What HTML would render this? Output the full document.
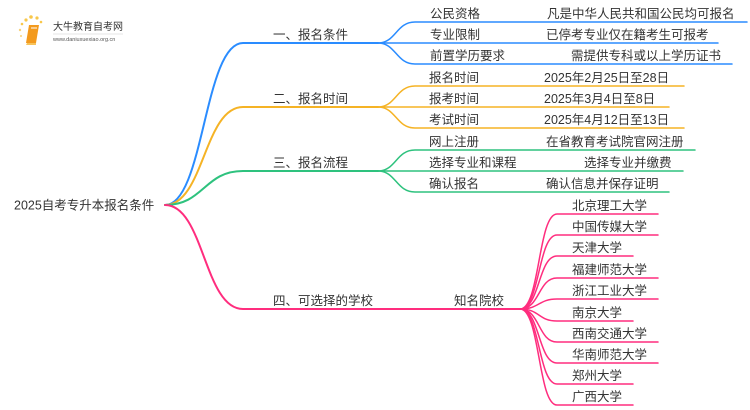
<!DOCTYPE html>
<html><head><meta charset="utf-8">
<style>
html,body{margin:0;padding:0;background:#fff;}
svg{display:block;}
text{font-family:"Liberation Sans","Noto Sans CJK SC",sans-serif;fill:#333;font-size:12.5px;}
</style></head><body>
<svg width="750" height="410" viewBox="0 0 750 410" xmlns="http://www.w3.org/2000/svg">
<!-- logo -->
<g>
<circle cx="22" cy="24" r="1.3" fill="#f8c74a"/>
<circle cx="26" cy="20" r="1.6" fill="#f8c74a"/>
<circle cx="31" cy="17" r="1.8" fill="#f8c74a"/>
<circle cx="37" cy="18" r="1.6" fill="#f8c74a"/>
<circle cx="41" cy="22" r="1.3" fill="#f8c74a"/>
<circle cx="20" cy="30" r="1.2" fill="#f8d27a"/>
<circle cx="21" cy="36" r="1" fill="#f8d27a"/>
<path d="M29,25 L39,25 L36,43 L26,43 Z" fill="#f39a1e"/>
<path d="M27,43 L36,43 L36,45 L26,45 Z" fill="#f7c35a"/>
<path d="M31,28 L37,28" stroke="#fff" stroke-width="1"/>
<text x="53" y="30" style="font-size:10px;fill:#333">大牛教育自考网</text>
<line x1="53" y1="34" x2="123" y2="34" stroke="#ccc" stroke-width="0.6"/>
<text x="53" y="41" style="font-size:5.5px;fill:#555">www.daniuxuexiao.org.cn</text>
</g>

<!-- root -->
<text x="14" y="209.5">2025自考专升本报名条件</text>

<g fill="none" stroke-linecap="round">
<!-- root to branches -->
<path d="M165,205 C204,205 204,43 243,43 L378,43" stroke="#2a8cff" stroke-width="2"/>
<path d="M165,205 C204,205 204,107 243,107 L378,107" stroke="#f5b325" stroke-width="2"/>
<path d="M165,205 C204,205 204,171 243,171 L378,171" stroke="#2ec27e" stroke-width="2"/>
<path d="M165,205 C204,205 204,309 243,309 L520,309" stroke="#ff2d7e" stroke-width="2"/>

<!-- branch 1 children -->
<path d="M378,43 C396,43 396,22 415,22 L747,22" stroke="#2a8cff" stroke-width="1.5"/>
<path d="M378,43 L718,43" stroke="#2a8cff" stroke-width="1.5"/>
<path d="M378,43 C396,43 396,64 415,64 L732,64" stroke="#2a8cff" stroke-width="1.5"/>
<!-- branch 2 children -->
<path d="M378,107 C396,107 396,86 415,86 L684,86" stroke="#f5b325" stroke-width="1.5"/>
<path d="M378,107 L669,107" stroke="#f5b325" stroke-width="1.5"/>
<path d="M378,107 C396,107 396,128 415,128 L684,128" stroke="#f5b325" stroke-width="1.5"/>
<!-- branch 3 children -->
<path d="M378,171 C396,171 396,150 415,150 L695,150" stroke="#2ec27e" stroke-width="1.5"/>
<path d="M378,171 L683,171" stroke="#2ec27e" stroke-width="1.5"/>
<path d="M378,171 C396,171 396,192 415,192 L669,192" stroke="#2ec27e" stroke-width="1.5"/>

<!-- schools -->
<path d="M520,309 C540,309 538,214 557,214 L658,214" stroke="#ff2d7e" stroke-width="1.5"/>
<path d="M520,309 C540,309 538,235 557,235 L658,235" stroke="#ff2d7e" stroke-width="1.5"/>
<path d="M520,309 C540,309 538,256 557,256 L633,256" stroke="#ff2d7e" stroke-width="1.5"/>
<path d="M520,309 C540,309 538,278 557,278 L658,278" stroke="#ff2d7e" stroke-width="1.5"/>
<path d="M520,309 C540,309 538,299 557,299 L658,299" stroke="#ff2d7e" stroke-width="1.5"/>
<path d="M520,309 C540,309 538,321 557,321 L633,321" stroke="#ff2d7e" stroke-width="1.5"/>
<path d="M520,309 C540,309 538,342 557,342 L658,342" stroke="#ff2d7e" stroke-width="1.5"/>
<path d="M520,309 C540,309 538,363 557,363 L658,363" stroke="#ff2d7e" stroke-width="1.5"/>
<path d="M520,309 C540,309 538,384 557,384 L633,384" stroke="#ff2d7e" stroke-width="1.5"/>
<path d="M520,309 C540,309 538,405 557,405 L633,405" stroke="#ff2d7e" stroke-width="1.5"/>
</g>

<!-- branch labels -->
<text x="273" y="39">一、报名条件</text>
<text x="273" y="103">二、报名时间</text>
<text x="273" y="167">三、报名流程</text>
<text x="273" y="305">四、可选择的学校</text>

<!-- children -->
<text x="430" y="18">公民资格</text>
<text x="547" y="18">凡是中华人民共和国公民均可报名</text>
<text x="430" y="39">专业限制</text>
<text x="546" y="39">已停考专业仅在籍考生可报考</text>
<text x="430" y="60">前置学历要求</text>
<text x="571" y="60">需提供专科或以上学历证书</text>

<text x="429" y="82">报名时间</text>
<text x="544" y="82">2025年2月25日至28日</text>
<text x="429" y="103">报考时间</text>
<text x="544" y="103">2025年3月4日至8日</text>
<text x="429" y="124">考试时间</text>
<text x="544" y="124">2025年4月12日至13日</text>

<text x="429" y="146">网上注册</text>
<text x="546" y="146">在省教育考试院官网注册</text>
<text x="429" y="167">选择专业和课程</text>
<text x="584" y="167">选择专业并缴费</text>
<text x="429" y="188">确认报名</text>
<text x="546" y="188">确认信息并保存证明</text>

<text x="454" y="305">知名院校</text>

<text x="572" y="210">北京理工大学</text>
<text x="572" y="231">中国传媒大学</text>
<text x="572" y="252">天津大学</text>
<text x="572" y="274">福建师范大学</text>
<text x="572" y="295">浙江工业大学</text>
<text x="572" y="317">南京大学</text>
<text x="572" y="338">西南交通大学</text>
<text x="572" y="359">华南师范大学</text>
<text x="572" y="380">郑州大学</text>
<text x="572" y="401">广西大学</text>
</svg>
</body></html>
